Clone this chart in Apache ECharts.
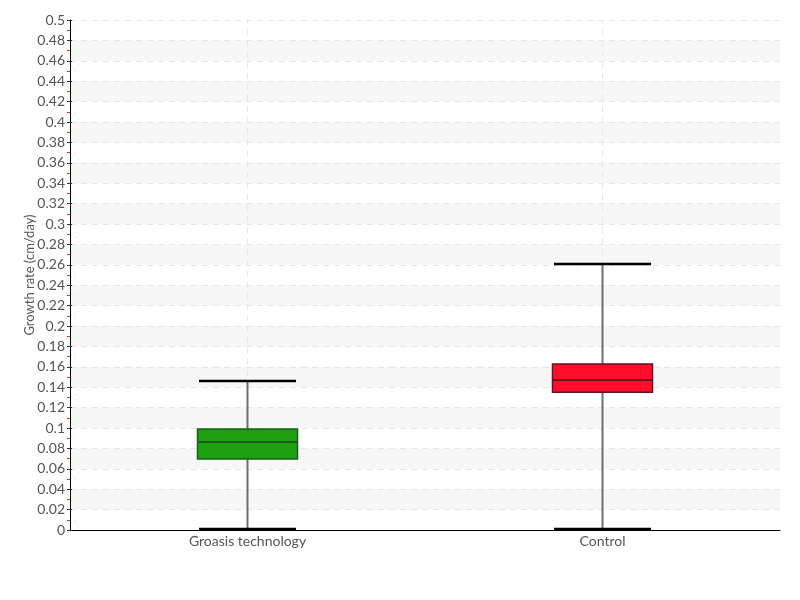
<!DOCTYPE html>
<html><head><meta charset="utf-8">
<script src="https://cdn.jsdelivr.net/npm/echarts@6/dist/echarts.min.js"></script>
<style>html,body{margin:0;padding:0;background:#fff}#c{width:800px;height:600px}</style>
</head><body><div id="c"></div>
<script>
const categories = ['Groasis technology', 'Control'];
// [low whisker, Q1, median, Q3, high whisker]
const boxValues = [
  [0, 0.0696, 0.0863, 0.099, 0.146],
  [0, 0.135, 0.147, 0.1627, 0.2608]
];
const fillColors = ['#1fa012', '#ff0d2b'];
const borderColors = ['#1b5e14', '#6b1020'];
const yTitle = 'Growth rate (cm/day)';

const FONT = 'Lato, "Liberation Sans Narrow", sans-serif';
const chart = echarts.init(document.getElementById('c'));
const data = boxValues.map((v, i) => [i].concat(v));

chart.setOption({
  animation: false,
  grid: { left: 70, right: 20, top: 20, bottom: 70 },
  xAxis: {
    type: 'category', data: categories,
    axisLine: { lineStyle: { color: '#000', width: 1 } },
    axisTick: { show: false },
    axisLabel: { color: '#555', fontFamily: FONT, fontSize: 14, margin: 4 },
    splitLine: { show: false }
  },
  yAxis: [{
    type: 'value', min: 0, max: 0.5, interval: 0.02,
    name: yTitle, nameLocation: 'middle', nameGap: 34, nameMoveOverlap: false,
    nameTextStyle: { color: '#555', fontFamily: FONT, fontSize: 13 },
    axisLine: { show: true, lineStyle: { color: '#000' } },
    axisTick: { show: true, length: 3, lineStyle: { color: '#333' } },
    minorTick: { show: true, splitNumber: 2, length: 3, lineStyle: { color: '#ff2020' } },
    axisLabel: { color: '#555', fontFamily: FONT, fontSize: 14, margin: 5,
      formatter: v => String(+v.toFixed(2)) },
    splitLine: { show: true, lineStyle: { color: '#e6e6e6', type: [6, 5] } },
    splitArea: { show: true, areaStyle: { color: ['rgba(255,255,255,0)', '#f7f7f7'] } }
  }, {
    type: 'value', min: 0, max: 0.5, interval: 0.02, position: 'left',
    axisLine: { show: false }, axisLabel: { show: false },
    axisTick: { show: true, inside: true, length: 2, lineStyle: { color: '#333' } },
    splitLine: { show: false }
  }],
  series: [{
    type: 'line', data: [], z: 1, silent: true,
    markLine: {
      silent: true, symbol: 'none', label: { show: false }, z: 1,
      lineStyle: { color: '#e8e8e8', type: [6, 5], width: 1 },
      data: categories.map(c => ({ xAxis: c }))
    }
  }, {
    type: 'custom',
    data: data,
    encode: { x: 0, y: [1, 2, 3, 4, 5] },
    z: 5,
    renderItem: function (params, api) {
      const i = api.value(0);
      const x = api.coord([i, 0])[0];
      const yLow = api.coord([i, api.value(1)])[1];
      const yQ1 = api.coord([i, api.value(2)])[1];
      const yMed = api.coord([i, api.value(3)])[1];
      const yQ3 = api.coord([i, api.value(4)])[1];
      const yHigh = api.coord([i, api.value(5)])[1];
      const bw = 100, cw = 97;
      return {
        type: 'group',
        children: [
          { type: 'line', shape: { x1: x, y1: yLow, x2: x, y2: yQ1 }, style: { stroke: '#6e6e6e', lineWidth: 2 } },
          { type: 'line', shape: { x1: x, y1: yQ3, x2: x, y2: yHigh }, style: { stroke: '#6e6e6e', lineWidth: 2 } },
          { type: 'line', shape: { x1: x - cw / 2, y1: yHigh, x2: x + cw / 2, y2: yHigh }, style: { stroke: '#000', lineWidth: 2.5 } },
          { type: 'line', shape: { x1: x - cw / 2, y1: yLow - 1, x2: x + cw / 2, y2: yLow - 1 }, style: { stroke: '#000', lineWidth: 2.5 } },
          { type: 'rect', shape: { x: x - bw / 2, y: yQ3, width: bw, height: yQ1 - yQ3 },
            style: { fill: fillColors[i], stroke: borderColors[i], lineWidth: 1.5 } },
          { type: 'line', shape: { x1: x - bw / 2, y1: yMed, x2: x + bw / 2, y2: yMed }, style: { stroke: borderColors[i], lineWidth: 2 } }
        ]
      };
    }
  }]
});
</script></body></html>
